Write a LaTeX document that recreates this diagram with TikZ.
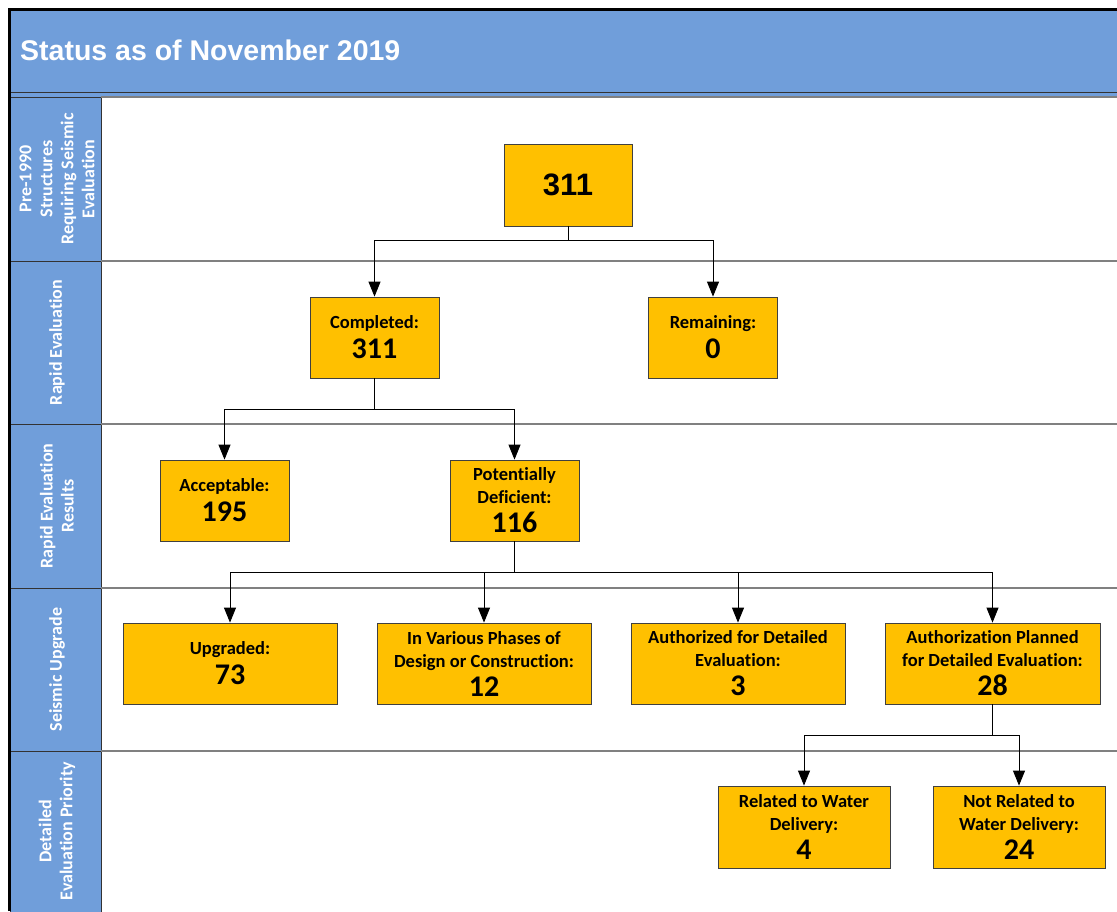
\documentclass[tikz,border=0pt]{standalone}
\usepackage{fontspec}
\setmainfont{Carlito}[Ligatures=NoCommon]
\newfontfamily\arialfont{Liberation Sans}
\usetikzlibrary{arrows.meta}
\definecolor{lanecol}{RGB}{112,158,218}
\definecolor{goldcol}{RGB}{255,192,0}
\newcommand\bignum[1]{{\fontsize{30}{30}\selectfont #1}}
\begin{document}
\begin{tikzpicture}[x=1pt,y=-1pt,
 box/.style={draw=black!75, fill=goldcol, line width=0.8pt, inner sep=0pt, align=center,
   font=\bfseries\fontsize{18.5}{23}\selectfont},
 arr/.style={-{Triangle[length=15pt,width=12pt]}, line width=0.9pt},
 sep/.style={draw=black!50, line width=1.2pt},
 lanecell/.style={fill=lanecol, draw=black!80, line width=0.8pt},
 lanelbl/.style={rotate=90, text=white, font=\bfseries\fontsize{18}{21}\selectfont, align=center}]
\useasboundingbox (0,0) rectangle (1117,911);
\fill[white] (0,0) rectangle (1117,911);
% header
\fill[lanecol] (10,10) rectangle (1117,97);
\draw[line width=1pt, black!80] (10,92) -- (1117,92);
\node[anchor=west, text=white, inner sep=0pt, font=\arialfont\bfseries\fontsize{28.5}{30}\selectfont] (title) at (20,50) {Status as of November 2019};
% lane cells
\draw[lanecell] (10,97) rectangle (101,261);
\draw[lanecell] (10,261) rectangle (101,424);
\draw[lanecell] (10,424) rectangle (101,588);
\draw[lanecell] (10,588) rectangle (101,751);
\draw[lanecell] (10,751) rectangle (101,915);
% separators
\draw[sep] (101,97) -- (1117,97);
\draw[sep] (101,261) -- (1117,261);
\draw[sep] (101,424) -- (1117,424);
\draw[sep] (101,588) -- (1117,588);
\draw[sep] (101,751) -- (1117,751);
% outer frame
\draw[line width=3pt] (9.5,911) -- (9.5,9.5) -- (1117,9.5);
% lane labels
\node[lanelbl] (l1) at (57,179) {Pre-1990\\Structures\\Requiring Seismic\\Evaluation};
\node[lanelbl] (l2) at (57,342.5) {Rapid Evaluation};
\node[lanelbl] (l3) at (57,506) {Rapid Evaluation\\Results};
\node[lanelbl] (l4) at (57,669.5) {Seismic Upgrade};
\node[lanelbl] (l5) at (57,831) {Detailed\\Evaluation Priority};
% boxes
\node[box, minimum width=128pt, minimum height=82pt, font=\arialfont\bfseries\fontsize{31}{32}\selectfont] (total) at (568,185) {311};
\node[box, minimum width=129pt, minimum height=81pt] (comp) at (374.5,337.5) {Completed:\\[7pt]\bignum{311}};
\node[box, minimum width=129pt, minimum height=81pt] (rem) at (713,337.5) {Remaining:\\[7pt]\bignum{0}};
\node[box, minimum width=129pt, minimum height=81pt] (acc) at (224.5,500.5) {Acceptable:\\[7pt]\bignum{195}};
\node[box, minimum width=129pt, minimum height=81pt] (pd) at (514.5,500.5) {Potentially\\Deficient:\\[6pt]\bignum{116}};
\node[box, minimum width=214pt, minimum height=81pt] (upg) at (230,663.5) {Upgraded:\\[7pt]\bignum{73}};
\node[box, minimum width=214pt, minimum height=81pt] (var) at (484,663.5) {In Various Phases of\\Design or Construction:\\[6pt]\bignum{12}};
\node[box, minimum width=214pt, minimum height=81pt] (auth) at (738,663.5) {Authorized for Detailed\\Evaluation:\\[6pt]\bignum{3}};
\node[box, minimum width=215pt, minimum height=81pt] (plan) at (992.5,663.5) {Authorization Planned\\for Detailed Evaluation:\\[6pt]\bignum{28}};
\node[box, minimum width=172pt, minimum height=82pt] (rel) at (804,827) {Related to Water\\Delivery:\\[6pt]\bignum{4}};
\node[box, minimum width=172pt, minimum height=82pt] (nrel) at (1019,827) {Not Related to\\Water Delivery:\\[6pt]\bignum{24}};
% connectors
\draw[arr] (total.south) -- ++(0,14) -| (comp.north);
\draw[arr] (total.south) -- ++(0,14) -| (rem.north);
\draw[arr] (comp.south) -- ++(0,31) -| (acc.north);
\draw[arr] (comp.south) -- ++(0,31) -| (pd.north);
\draw[arr] (pd.south) -- ++(0,31) -| (upg.north);
\draw[arr] (pd.south) -- ++(0,31) -| (var.north);
\draw[arr] (pd.south) -- ++(0,31) -| (auth.north);
\draw[arr] (pd.south) -- ++(0,31) -| (plan.north);
\draw[arr] (plan.south) -- ++(0,31) -| (rel.north);
\draw[arr] (plan.south) -- ++(0,31) -| (nrel.north);
\end{tikzpicture}
\end{document}
